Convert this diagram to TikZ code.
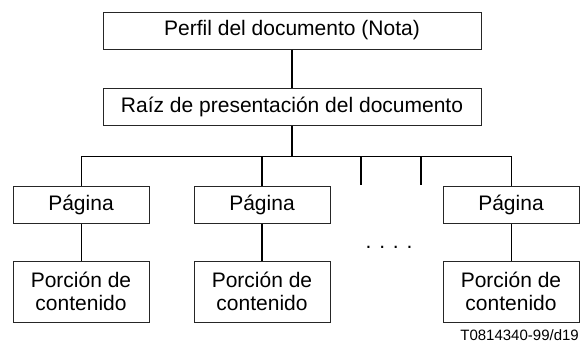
\documentclass[tikz,border=0pt]{standalone}
\usepackage{fontspec}
\setmainfont{Liberation Sans}
\begin{document}
\begin{tikzpicture}[x=1pt,y=-1pt,
  box/.style={draw=black!85,line width=1pt,inner sep=0pt,align=center,
    font=\fontsize{21}{23}\selectfont},
  wide/.style={box,minimum width=378pt,minimum height=37pt},
  pagebox/.style={box,minimum width=136pt,minimum height=37pt},
  contbox/.style={box,minimum width=136pt,minimum height=61pt},
  thin/.style={line width=1pt},
  thick/.style={line width=2pt}]
\useasboundingbox (0,0) rectangle (581,343);
\node[wide] (perfil) at (292,30.5) {Perfil del documento (Nota)};
\node[wide] (raiz) at (292,106.5) {Raíz de presentación del documento};
\node[pagebox] (p1) at (81,204.5) {Página};
\node[pagebox] (p2) at (262,204.5) {Página};
\node[pagebox] (p3) at (511,204.5) {Página};
\node[contbox] (c1) at (81,291.5) {Porción de\\contenido};
\node[contbox] (c2) at (262,291.5) {Porción de\\contenido};
\node[contbox] (c3) at (511,291.5) {Porción de\\contenido};
\coordinate (barL) at (81,156);
\coordinate (barR) at (511,156);
\coordinate (s1) at (361,156);
\coordinate (s1e) at (361,185);
\coordinate (s2) at (421,156);
\coordinate (s2e) at (421,185);
\draw[thick] (perfil) -- (raiz);
\draw[thick] (raiz.south) -- (raiz.south |- barL);
\draw[thin] (barL) -- (barR);
\draw[thin] (p1.north) -- (barL);
\draw[thick] (p2.north) -- (p2.north |- barL);
\draw[thin] (p3.north) -- (barR);
\draw[thick] (s1) -- (s1e);
\draw[thick] (s2) -- (s2e);
\draw[thin] (p1) -- (c1);
\draw[thick] (p2) -- (c2);
\draw[thin] (p3) -- (c3);
\node[anchor=base,inner sep=0pt,font=\fontsize{21}{23}\selectfont] (dots) at (389,248) {. . . .};
\node[anchor=base east,inner sep=0pt,font=\fontsize{15}{17}\selectfont] (label) at (579,340) {T0814340-99/d19};
\end{tikzpicture}
\end{document}
